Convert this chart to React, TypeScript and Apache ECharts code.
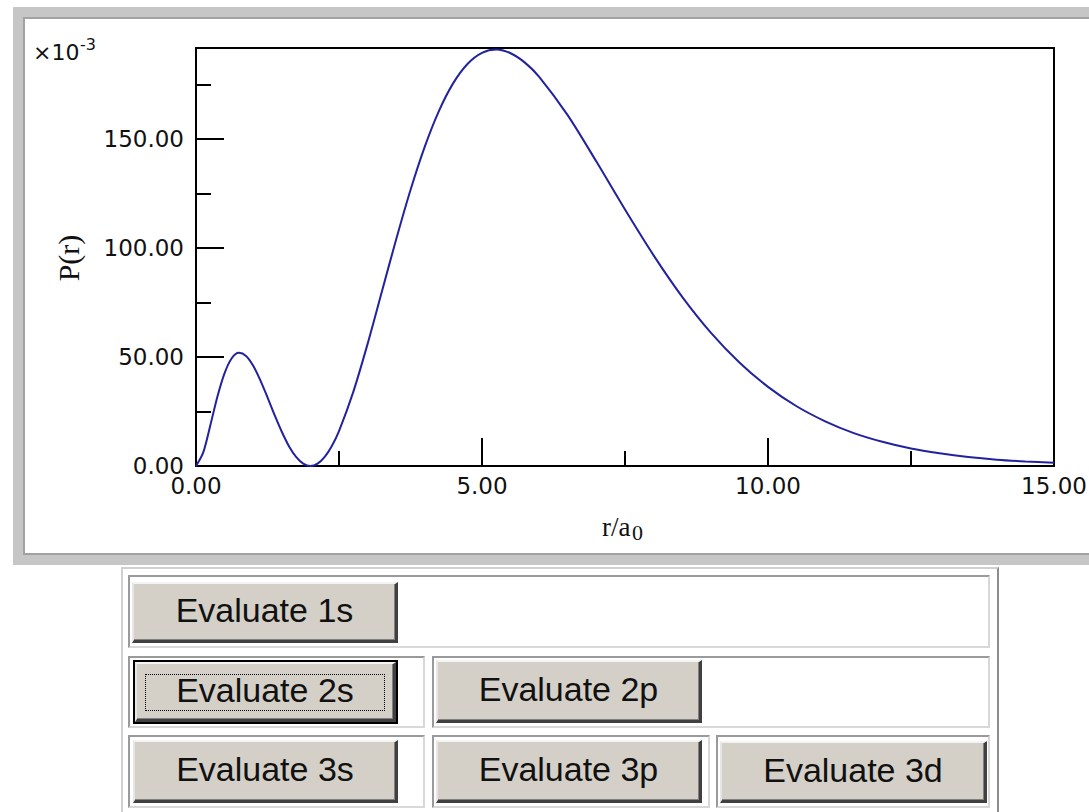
import React, { useEffect, useRef } from "react";
import * as echarts from "echarts";

// r / a0 sample positions and P(r) values (×10^-3)
const rValues = [
  0, 0.125, 0.25, 0.375, 0.5, 0.625, 0.75, 0.875, 1.0, 1.125, 1.25, 1.375, 1.5, 1.625, 1.75, 1.875,
  2.0, 2.125, 2.25, 2.375, 2.5, 2.75, 3.0, 3.25, 3.5, 3.75, 4.0, 4.25, 4.5, 4.75, 5.0, 5.25, 5.5,
  5.75, 6.0, 6.5, 7.0, 7.5, 8.0, 8.5, 9.0, 9.5, 10, 10.5, 11, 11.5, 12, 12.5, 13, 13.5, 14, 14.5, 15,
];
const pValues = [
  0, 6.1, 18.6, 31.9, 42.6, 49.4, 51.9, 50.5, 46.0, 39.3, 31.5, 23.3, 15.7, 9.1, 4.2, 1.1,
  0, 1.1, 4.2, 9.2, 16.0, 34.0, 56.0, 80.0, 104.0, 126.6, 146.5, 163.0, 175.7, 184.5, 189.5, 191.0, 189.3,
  185.0, 178.5, 160.8, 139.6, 117.6, 96.6, 77.6, 61.2, 47.5, 36.3, 27.4, 20.5, 15.1, 11.1, 8.0, 5.8, 4.1, 2.9, 2.1, 1.5,
];

const xMin = 0;
const xMax = 15;
const xInterval = 5;
const yMin = 0;
const yMax = 191.7;
const yMajorTicks = [0, 50, 100, 150];
const yMinorTicks = [25, 75, 125, 175];

const buttonRows = [["Evaluate 1s"], ["Evaluate 2s", "Evaluate 2p"], ["Evaluate 3s", "Evaluate 3p", "Evaluate 3d"]];

const tickFont = "'DejaVu Sans', sans-serif";
const serif = "'Liberation Serif', 'Times New Roman', serif";

function Chart() {
  const ref = useRef<HTMLDivElement>(null);
  useEffect(() => {
    if (!ref.current) return;
    const chart = echarts.init(ref.current, null, { renderer: "svg" });
    const gridRect = { left: 196, top: 48, width: 858, height: 418 };
    const black = { color: "#000", width: 2 };
    const fmt = (v: number) => v.toFixed(2);
    chart.setOption({
      animation: false,
      grid: [
        { ...gridRect, show: true, borderColor: "#000", borderWidth: 2, outerBoundsMode: "none", containLabel: false },
        { ...gridRect, show: false, outerBoundsMode: "none", containLabel: false },
      ],
      xAxis: [
        {
          type: "value",
          gridIndex: 0,
          min: xMin,
          max: xMax,
          interval: xInterval,
          axisLine: { show: true, lineStyle: black },
          axisTick: { show: true, inside: true, length: 28, lineStyle: black },
          minorTick: { show: true, splitNumber: 2, length: 15, lineStyle: black },
          splitLine: { show: false },
          axisLabel: { formatter: fmt, fontFamily: tickFont, fontSize: 23, color: "#111", margin: 8 },
        },
        { type: "value", gridIndex: 1, min: xMin, max: xMax, show: false },
      ],
      yAxis: [
        {
          type: "value",
          gridIndex: 0,
          min: yMin,
          max: yMax,
          interval: 50,
          axisLine: { show: true, lineStyle: black },
          axisTick: { show: true, inside: true, length: 28, lineStyle: black, customValues: yMajorTicks },
          splitLine: { show: false },
          axisLabel: {
            customValues: yMajorTicks,
            formatter: fmt,
            fontFamily: tickFont,
            fontSize: 23,
            color: "#111",
            margin: 12,
          },
        },
        {
          type: "value",
          gridIndex: 1,
          min: yMin,
          max: yMax,
          axisLine: { show: false },
          axisTick: { show: true, inside: true, length: 15, lineStyle: black, customValues: yMinorTicks },
          axisLabel: { show: false },
          splitLine: { show: false },
        },
      ],
      graphic: [
        {
          type: "text",
          x: 33,
          y: 52,
          style: {
            text: "×10",
            fontFamily: tickFont,
            fontSize: 22,
            fill: "#111",
            align: "left",
            verticalAlign: "middle",
            textAlign: "left",
            textVerticalAlign: "middle",
          },
        },
        {
          type: "text",
          x: 80,
          y: 44,
          style: {
            text: "-3",
            fontFamily: tickFont,
            fontSize: 16,
            fill: "#111",
            align: "left",
            verticalAlign: "middle",
            textAlign: "left",
            textVerticalAlign: "middle",
          },
        },
        {
          type: "text",
          x: 68,
          y: 258,
          rotation: Math.PI / 2,
          style: {
            text: "P(r)",
            fontFamily: serif,
            fontSize: 30,
            fill: "#111",
            align: "center",
            verticalAlign: "middle",
            textAlign: "center",
            textVerticalAlign: "middle",
          },
        },
        {
          type: "text",
          x: 602,
          y: 527,
          style: {
            text: "r/a",
            fontFamily: serif,
            fontSize: 27,
            fill: "#111",
            align: "left",
            verticalAlign: "middle",
            textAlign: "left",
            textVerticalAlign: "middle",
          },
        },
        {
          type: "text",
          x: 632,
          y: 532,
          style: {
            text: "0",
            fontFamily: serif,
            fontSize: 22,
            fill: "#111",
            align: "left",
            verticalAlign: "middle",
            textAlign: "left",
            textVerticalAlign: "middle",
          },
        },
      ],
      series: [
        {
          type: "line",
          xAxisIndex: 0,
          yAxisIndex: 0,
          data: rValues.map((r, i) => [r, pValues[i]]),
          showSymbol: false,
          smooth: 0.3,
          lineStyle: { color: "#22229e", width: 2 },
        },
      ],
    });
    return () => chart.dispose();
  }, []);
  return <div ref={ref} style={{ position: "absolute", left: 0, top: 0, width: 1089, height: 570, zIndex: 2 }} />;
}

type Rect = { left: number; top: number; width: number; height: number };

function Cell({ r }: { r: Rect }) {
  return (
    <div
      style={{
        position: "absolute",
        left: r.left,
        top: r.top,
        width: r.width,
        height: r.height,
        boxSizing: "border-box",
        borderTop: "2px solid #9a9a9a",
        borderLeft: "2px solid #9a9a9a",
        borderBottom: "2px solid #d8d8d8",
        borderRight: "2px solid #d8d8d8",
        background: "#fff",
      }}
    />
  );
}

function Btn({ r, label, focused }: { r: Rect; label: string; focused?: boolean }) {
  return (
    <div
      style={{
        position: "absolute",
        left: r.left,
        top: r.top,
        width: r.width,
        height: r.height,
        boxSizing: "border-box",
        background: "#d4d0c8",
        border: focused ? "2px solid #000" : "none",
      }}
    >
      <div
        style={{
          position: "absolute",
          inset: 0,
          boxSizing: "border-box",
          borderTop: "2px solid #f4f4f4",
          borderLeft: "2px solid #e6e6e6",
          borderBottom: "3px solid #404040",
          borderRight: "3px solid #404040",
          boxShadow: "inset -1px -1px 0 #808080",
          display: "flex",
          alignItems: "center",
          justifyContent: "center",
          fontFamily: "'Liberation Sans', Arial, sans-serif",
          fontSize: 34,
          color: "#111",
          paddingBottom: 3,
        }}
      >
        {focused ? (
          <div
            style={{
              position: "absolute",
              left: 8,
              top: 10,
              right: 8,
              bottom: 8,
              border: "1px dotted #000",
            }}
          />
        ) : null}
        <span style={{ position: "relative" }}>{label}</span>
      </div>
    </div>
  );
}

export default function App() {
  const cellRects: Rect[][] = [
    [{ left: 128, top: 575, width: 862, height: 73 }],
    [
      { left: 128, top: 656, width: 297, height: 72 },
      { left: 432, top: 656, width: 558, height: 72 },
    ],
    [
      { left: 128, top: 735, width: 297, height: 73 },
      { left: 432, top: 735, width: 278, height: 73 },
      { left: 716, top: 735, width: 274, height: 73 },
    ],
  ];
  const btnRects: Rect[][] = [
    [{ left: 132, top: 582, width: 266, height: 61 }],
    [
      { left: 133, top: 660, width: 265, height: 64 },
      { left: 436, top: 660, width: 266, height: 63 },
    ],
    [
      { left: 133, top: 740, width: 265, height: 63 },
      { left: 436, top: 740, width: 266, height: 63 },
      { left: 720, top: 741, width: 267, height: 62 },
    ],
  ];
  return (
    <div style={{ position: "absolute", left: 0, top: 0, width: 1089, height: 812, background: "#fff", overflow: "hidden" }}>
      {/* outer panel frame */}
      <div
        style={{
          position: "absolute",
          left: 13,
          top: 7,
          width: 1110,
          height: 558,
          boxSizing: "border-box",
          border: "10px solid #c6c6c6",
          background: "#fff",
          boxShadow: "inset 0 0 0 2px #a2a2a2",
          zIndex: 1,
        }}
      />
      <Chart />
      {/* button table */}
      <div
        style={{
          position: "absolute",
          left: 121,
          top: 567,
          width: 878,
          height: 260,
          boxSizing: "border-box",
          borderTop: "2px solid #d0d0d0",
          borderLeft: "2px solid #d0d0d0",
          borderRight: "2px solid #8c8c8c",
        }}
      />
      {cellRects.map((row, i) => row.map((r, j) => <Cell key={`c${i}${j}`} r={r} />))}
      {buttonRows.map((row, i) =>
        row.map((label, j) => <Btn key={`b${i}${j}`} r={btnRects[i][j]} label={label} focused={label === "Evaluate 2s"} />)
      )}
    </div>
  );
}
